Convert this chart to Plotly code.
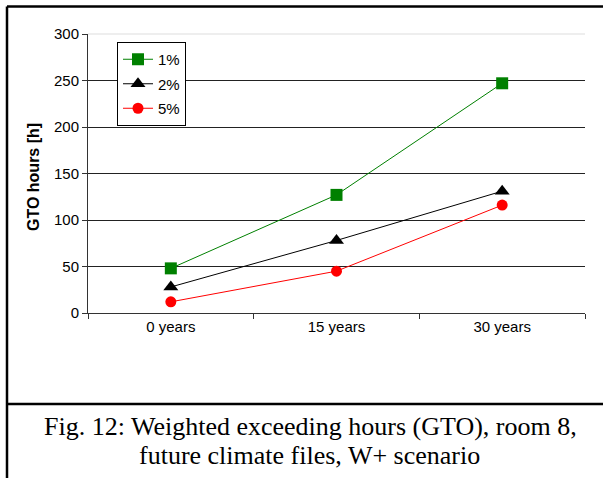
import plotly.graph_objects as go

# ---- data ----
categories = ["0 years", "15 years", "30 years"]
series_names = ["1%", "2%", "5%"]
values_1pct = [48, 127, 247]
values_2pct = [28, 78, 131]
values_5pct = [12, 45, 116]
y_ticks = [0, 50, 100, 150, 200, 250, 300]

# ---- layout geometry (pixels) ----
W, H = 603, 478
L, R, T, B = 88, 18, 34, 165
PW, PH = W - L - R, H - T - B


def px(x):
    return (x - L) / PW


def py(y):
    return (H - B - y) / PH


fig = go.Figure()
styles = [
    dict(color="#008000", symbol="square", size=12),
    dict(color="#000000", symbol="triangle-up", size=13),
    dict(color="#ff0000", symbol="circle", size=11),
]
for name, vals, st in zip(series_names, [values_1pct, values_2pct, values_5pct], styles):
    fig.add_trace(go.Scatter(
        x=categories, y=vals, name=name, mode="lines+markers",
        line=dict(color=st["color"], width=1),
        marker=dict(color=st["color"], symbol=st["symbol"], size=st["size"], line=dict(width=0)),
        legendgroup=name,
    ))

font_family = "Liberation Sans, Arial, sans-serif"
fig.update_layout(
    width=W, height=H,
    margin=dict(l=L, r=R, t=T, b=B, pad=0),
    paper_bgcolor="white", plot_bgcolor="white",
    font=dict(family=font_family, size=15, color="black"),
    showlegend=True,
    legend=dict(
        x=px(117), y=py(42), xanchor="left", yanchor="top",
        bordercolor="black", borderwidth=1, bgcolor="white",
        font=dict(size=15, family=font_family),
        traceorder="grouped", tracegroupgap=2,
        itemwidth=30,
    ),
    xaxis=dict(
        type="category", range=[-0.5, 2.5],
        showgrid=False, showline=True, linecolor="#333", linewidth=1,
        ticks="outside", ticklen=5, tickcolor="#333", tickson="boundaries",
        tickfont=dict(size=15), zeroline=False,
    ),
    yaxis=dict(
        range=[0, 300], tickvals=y_ticks,
        showgrid=True, gridcolor="#222", gridwidth=1,
        showline=True, linecolor="#333", linewidth=1,
        ticks="outside", ticklen=5, tickcolor="#333",
        tickfont=dict(size=15), zeroline=False,
    ),
)

# light top line of plot area over the 300 gridline
fig.add_shape(type="line", xref="paper", yref="paper", x0=0, x1=1, y0=1, y1=1,
              line=dict(color="#eeeeee", width=2), layer="above")

# outer frame and separator
for (x0, y0, x1, y1) in [(7, 6.5, 620, 6.5), (7, 6.5, 7, 500), (7, 404, 620, 404)]:
    fig.add_shape(type="line", xref="paper", yref="paper",
                  x0=px(x0), y0=py(y0), x1=px(x1), y1=py(y1),
                  line=dict(color="black", width=2.5), layer="above")

# y-axis title
fig.add_annotation(text="<b>GTO hours [h]</b>", xref="paper", yref="paper",
                   x=px(33), y=py(177), textangle=-90, showarrow=False,
                   xanchor="center", yanchor="middle",
                   font=dict(size=16, family=font_family, color="black"))

# caption
cap_font = dict(size=26, family="Liberation Serif, Times New Roman, serif", color="black")
fig.add_annotation(text="Fig. 12: Weighted exceeding hours (GTO), room 8,", xref="paper", yref="paper",
                   x=px(310), y=py(426), showarrow=False, xanchor="center", yanchor="middle", font=cap_font)
fig.add_annotation(text="future climate files, W+ scenario", xref="paper", yref="paper",
                   x=px(309), y=py(455), showarrow=False, xanchor="center", yanchor="middle", font=cap_font)

fig.write_html("out.html")
